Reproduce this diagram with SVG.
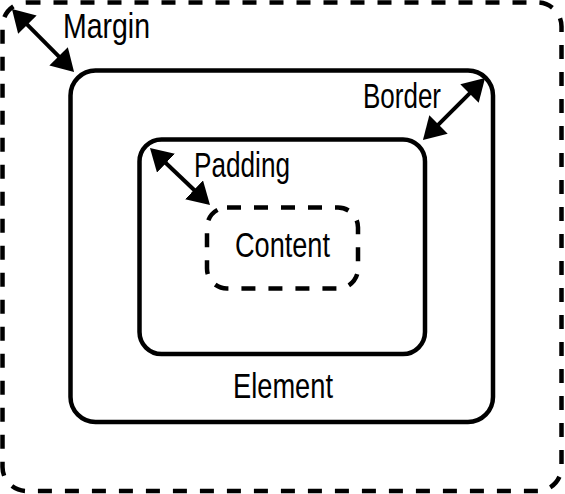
<svg xmlns="http://www.w3.org/2000/svg" width="565" height="494" viewBox="0 0 565 494">
<style>
.box{fill:none;stroke:#000;stroke-width:4.5}
.dash{stroke-dasharray:14 13}
.lbl{font-family:"Liberation Sans",Arial,sans-serif;font-size:35px;fill:#000}
.arrow{stroke:#000;stroke-width:4;fill:none}
</style>
<defs>
<marker id="ah" markerUnits="userSpaceOnUse" markerWidth="22" markerHeight="26" viewBox="0 0 22 26" refX="2" refY="13" orient="auto-start-reverse">
<path d="M0,0 L22,13 L0,26 z" fill="#000"/>
</marker>
</defs>
<rect width="565" height="494" fill="#fff"/>
<g id="margin">
<rect class="box dash" x="2.5" y="2.5" width="559" height="488.5" rx="24"/>
<text class="lbl" x="63" y="38" textLength="87" lengthAdjust="spacingAndGlyphs">Margin</text>
</g>
<g id="element">
<rect class="box" x="70.5" y="70.5" width="422.5" height="351.5" rx="25"/>
<text class="lbl" x="233" y="398" textLength="100" lengthAdjust="spacingAndGlyphs">Element</text>
<text class="lbl" x="363" y="108" textLength="78" lengthAdjust="spacingAndGlyphs">Border</text>
</g>
<g id="padding">
<rect class="box" x="139.5" y="139.5" width="285.5" height="214.5" rx="22"/>
<text class="lbl" x="194" y="177" textLength="96" lengthAdjust="spacingAndGlyphs">Padding</text>
</g>
<g id="content">
<rect class="box dash" x="207" y="207.5" width="151" height="81" rx="20"/>
<text class="lbl" x="235" y="257" textLength="95" lengthAdjust="spacingAndGlyphs">Content</text>
</g>
<g id="connectors">
<line class="arrow" x1="26" y1="23.3" x2="60" y2="57.7" marker-start="url(#ah)" marker-end="url(#ah)"/>
<line class="arrow" x1="470.9" y1="92.1" x2="437.1" y2="125.9" marker-start="url(#ah)" marker-end="url(#ah)"/>
<line class="arrow" x1="164.5" y1="161.8" x2="195.5" y2="191.2" marker-start="url(#ah)" marker-end="url(#ah)"/>
</g>
</svg>
